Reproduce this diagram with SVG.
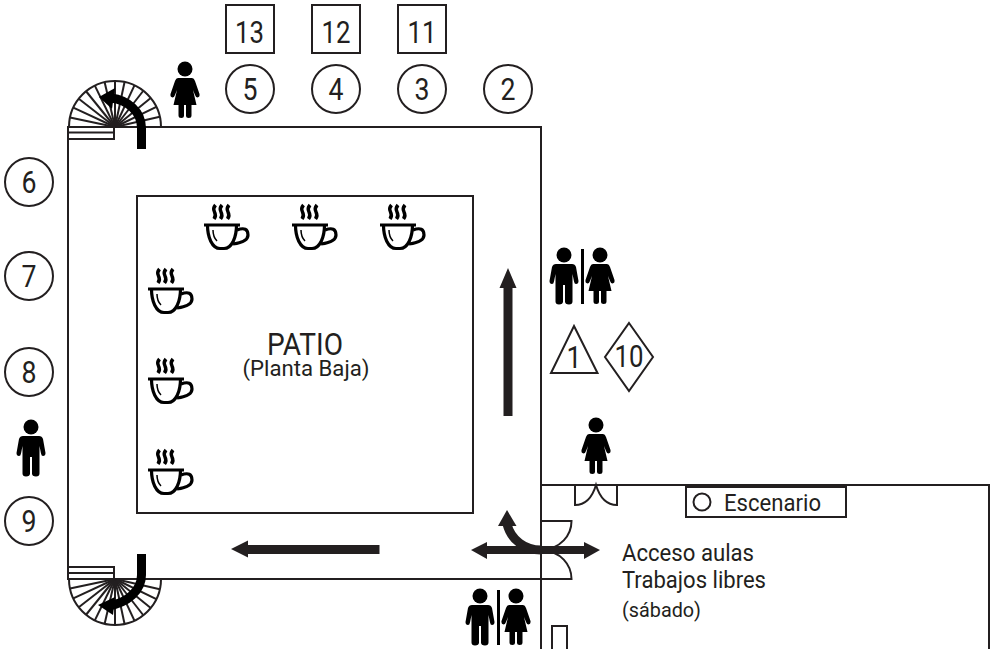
<svg xmlns="http://www.w3.org/2000/svg" width="995" height="649" viewBox="0 0 995 649">
<style>
.l{fill:none;stroke:#231f20;stroke-width:2}
.s{fill:#fff;stroke:#231f20;stroke-width:2}
.t{font-family:Roboto,"Liberation Sans",sans-serif;font-weight:400;fill:#231f20}
.n{font-size:31px;text-anchor:middle}
.f{fill:#000}
.a{fill:#231f20}
.c{fill:none;stroke:#000;stroke-width:3.2}
</style>
<defs>
<g id="man"><circle cx="0" cy="0" r="7.500"/><path d="M-8 9H8Q11 9 12 12L14.500 26Q14.500 29 12 29Q10.500 29 10 26.500L8.500 19V46.500Q8.500 49.500 5 49.500Q1 49.500 1 46.500V30H-1V46.500Q-1 49.500 -5 49.500Q-8.500 49.500 -8.500 46.500V19L-10 26.500Q-10.500 29 -12 29Q-14.500 29 -14.500 26L-12 12Q-11 9 -8 9Z"/></g>
<g id="woman"><circle cx="0" cy="0" r="7.500"/><path d="M-7 9H7Q9 9 10 12L14.500 25Q15 28 12.500 28.500Q11 28.500 10 26L8 21L11.500 36H6.500V46.500Q6.500 49 3.700 49Q1 49 1 46.500V36H-1V46.500Q-1 49 -3.700 49Q-6.500 49 -6.500 46.500V36H-11.500L-8 21L-10 26Q-11 28.500 -12.500 28.500Q-15 28 -14.500 25L-10 12Q-9 9 -7 9Z"/></g>
<g id="cup">
<path class="c" d="M-18 1H18"/>
<path class="c" stroke-width="3.500" d="M-14.500 1C-14.500 13 -10 24.500 -2 24.500H2C10 24.500 14.500 13 14.500 1"/>
<path d="M-9 6Q-9 13 -5 17" fill="none" stroke="#000" stroke-width="1.500"/>
<path class="c" d="M15 6Q26 2 26 11Q26 18 11 20"/>
<path d="M-6.500 -19Q-9.500 -15.500 -7.500 -12Q-5.500 -8.500 -8 -5M0 -19Q-3 -15.500 -1 -12Q1 -8.500 -1.500 -5M7 -19Q4 -15.500 6 -12Q8 -8.500 5.500 -5" fill="none" stroke="#000" stroke-width="3.500"/>
</g>
<g id="fan">
<path class="l" d="M-46 0A46 46 0 0 1 46 0Z" fill="#fff"/>
<g class="l">
<path d="M0 0H46" transform="rotate(-13)"/>
<path d="M0 0H46" transform="rotate(-26)"/>
<path d="M0 0H46" transform="rotate(-39)"/>
<path d="M0 0H46" transform="rotate(-52)"/>
<path d="M0 0H46" transform="rotate(-65)"/>
<path d="M0 0H46" transform="rotate(-78)"/>
<path d="M0 0H46" transform="rotate(-90)"/>
<path d="M0 0H46" transform="rotate(-103)"/>
<path d="M0 0H46" transform="rotate(-116)"/>
<path d="M0 0H46" transform="rotate(-129)"/>
<path d="M0 0H46" transform="rotate(-142)"/>
<path d="M0 0H46" transform="rotate(-155)"/>
<path d="M0 0H46" transform="rotate(-168)"/>
</g>
</g>
</defs>

<g id="plan">
<rect class="l" x="68" y="127" width="473" height="452"/>
<rect class="l" x="137" y="196" width="336" height="317"/>
<path class="l" d="M541 127V649M541 485H989V649M552 649V626H567V649"/>
</g>

<g id="stairs-top">
<use href="#fan" transform="translate(115,127)"/>
<path class="l" d="M69 132.500H114M69 139H114V127"/>
</g>
<g id="stairs-bottom">
<use href="#fan" transform="translate(115,579) scale(1,-1)"/>
<path class="l" d="M69 573H114M69 567H114V579"/>
</g>

<g id="doors">
<path class="l" d="M575 485V505Q590 505 596 485Q602 505 617 505V485"/>
<path class="l" d="M541 521H571.500C571.500 535 561 549 541 550C561 551 571.500 565 571.500 579H541"/>
</g>

<g id="connectors">
<path d="M141.500 149V128C141.500 112 128 100 111 98" fill="none" stroke="#000" stroke-width="9"/>
<path class="f" d="M99 97L115 88L112 109Z"/>
<path d="M141.500 554V575C141.500 590 128 603 108 606" fill="none" stroke="#000" stroke-width="9"/>
<path class="f" d="M98 605L115 597L113 615Z"/>
<path class="a" d="M508 268L516.500 288H512.500V416H503.500V288H499.500Z"/>
<path class="a" d="M231 549L248 540.500V545H379.500V554H248V557.500Z"/>
<path class="a" d="M471 550L487 542V546H584V542L600 550L584 559V554H487V559Z"/>
<path d="M541 550C525 550 511 540 507 524" fill="none" stroke="#231f20" stroke-width="9"/>
<path class="a" d="M507 510L516.500 526L498 526Z"/>
</g>

<g id="r13"><rect class="s" x="226" y="5" width="48" height="48"/><text class="t n" x="249.500" y="43" textLength="29" lengthAdjust="spacingAndGlyphs">13</text></g>
<g id="r12"><rect class="s" x="312" y="5" width="48" height="48"/><text class="t n" x="336" y="43" textLength="29" lengthAdjust="spacingAndGlyphs">12</text></g>
<g id="r11"><rect class="s" x="398" y="5" width="48" height="48"/><text class="t n" x="422" y="43" textLength="29" lengthAdjust="spacingAndGlyphs">11</text></g>
<g id="c5"><circle class="s" cx="250" cy="89" r="24"/><text class="t n" x="250" y="100" textLength="15" lengthAdjust="spacingAndGlyphs">5</text></g>
<g id="c4"><circle class="s" cx="336" cy="89" r="24"/><text class="t n" x="336" y="100" textLength="15" lengthAdjust="spacingAndGlyphs">4</text></g>
<g id="c3"><circle class="s" cx="422" cy="89" r="24"/><text class="t n" x="422" y="100" textLength="15" lengthAdjust="spacingAndGlyphs">3</text></g>
<g id="c2"><circle class="s" cx="508" cy="89" r="24"/><text class="t n" x="508" y="100" textLength="15" lengthAdjust="spacingAndGlyphs">2</text></g>
<g id="c6"><circle class="s" cx="29" cy="182" r="24"/><text class="t n" x="29" y="193" textLength="15" lengthAdjust="spacingAndGlyphs">6</text></g>
<g id="c7"><circle class="s" cx="29" cy="276" r="24"/><text class="t n" x="29" y="287" textLength="15" lengthAdjust="spacingAndGlyphs">7</text></g>
<g id="c8"><circle class="s" cx="29" cy="372" r="24"/><text class="t n" x="29" y="383" textLength="15" lengthAdjust="spacingAndGlyphs">8</text></g>
<g id="c9"><circle class="s" cx="29" cy="521" r="24"/><text class="t n" x="29" y="532" textLength="15" lengthAdjust="spacingAndGlyphs">9</text></g>

<g id="tri1"><path class="s" d="M574 326L597.500 373H551Z"/><text class="t n" x="574" y="368" font-size="29" textLength="15" lengthAdjust="spacingAndGlyphs">1</text></g>
<g id="dia10"><path class="s" d="M629 323L653 357L629 391L605 357Z"/><text class="t n" x="629" y="367" font-size="29" textLength="29" lengthAdjust="spacingAndGlyphs">10</text></g>

<g id="people" class="f">
<use href="#woman" x="185" y="69"/>
<use href="#man" x="31" y="427"/>
<use href="#woman" x="596" y="425"/>
<use href="#man" x="564" y="255"/>
<rect x="581" y="249" width="3" height="55"/>
<use href="#woman" x="600" y="255"/>
<use href="#man" x="480" y="596"/>
<rect x="497" y="590" width="3" height="55"/>
<use href="#woman" x="516" y="596"/>
</g>

<g id="cups">
<use href="#cup" x="222" y="224"/>
<use href="#cup" x="310" y="224"/>
<use href="#cup" x="398" y="224"/>
<use href="#cup" x="166" y="288"/>
<use href="#cup" x="166" y="378"/>
<use href="#cup" x="166" y="469"/>
</g>

<g id="patio">
<text class="t" x="305" y="355" font-size="32" text-anchor="middle" textLength="76" lengthAdjust="spacingAndGlyphs">PATIO</text>
<text class="t" x="306" y="376" font-size="22" text-anchor="middle" textLength="127" lengthAdjust="spacingAndGlyphs">(Planta Baja)</text>
</g>

<g id="escenario">
<rect class="s" x="686" y="487" width="160" height="30"/>
<circle class="s" cx="702" cy="502" r="8.500"/>
<text class="t" x="724" y="511" font-size="24" textLength="97" lengthAdjust="spacingAndGlyphs">Escenario</text>
</g>

<g id="acceso">
<text class="t" x="622" y="561" font-size="24" textLength="132" lengthAdjust="spacingAndGlyphs">Acceso aulas</text>
<text class="t" x="622" y="588" font-size="24" textLength="144" lengthAdjust="spacingAndGlyphs">Trabajos libres</text>
<text class="t" x="622" y="617" font-size="21" textLength="79" lengthAdjust="spacingAndGlyphs">(sábado)</text>
</g>
</svg>
